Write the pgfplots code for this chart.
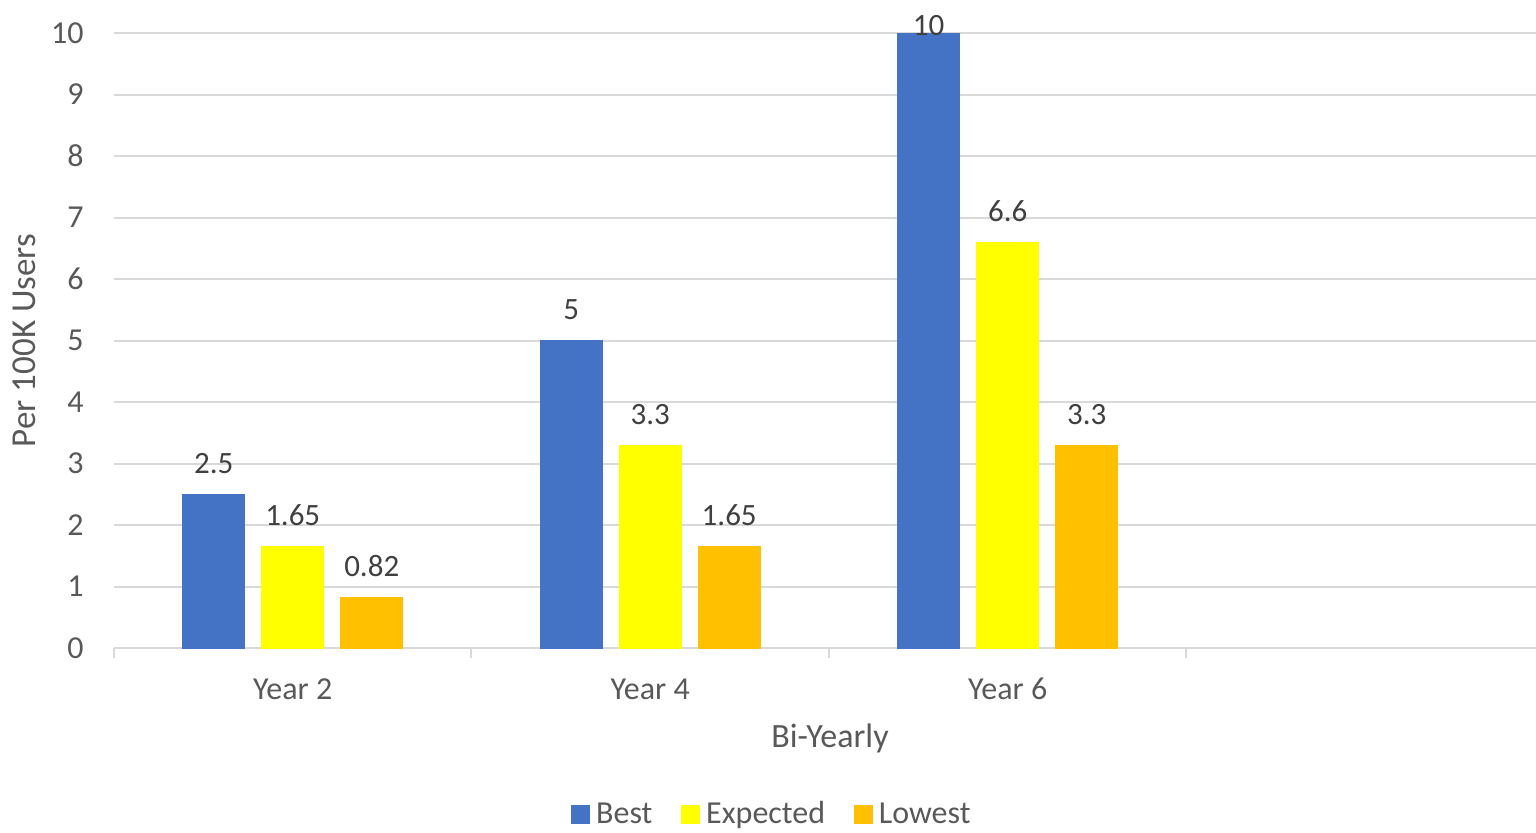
\documentclass[border=0pt]{standalone}
\usepackage{fontspec}
\setmainfont{Carlito}
\usepackage{pgfplots}
\pgfplotsset{compat=1.18}
\definecolor{cBest}{HTML}{4472C4}
\definecolor{cExp}{HTML}{FFFF00}
\definecolor{cLow}{HTML}{FFC000}
\definecolor{gridgray}{HTML}{D9D9D9}
\definecolor{textgray}{HTML}{595959}
\definecolor{labgray}{HTML}{404040}
\begin{document}
\begin{tikzpicture}
\begin{axis}[
  scale only axis, width=711pt, height=307.5pt,
  xmin=-0.5, xmax=3.478, ymin=0, ymax=10,
  ybar=8.5pt, bar width=31pt,
  clip=false,
  axis line style={draw=none},
  ymajorgrids, grid style={draw=gridgray, line width=1pt},
  ytick={0,1,...,10}, ytick style={draw=none},
  yticklabel style={font=\fontsize{16}{19}\selectfont, text=textgray, anchor=east, inner sep=0pt, xshift=-10pt},
  /pgf/number format/assume math mode=true,
  xtick={-0.5,0.5,1.5,2.5}, xticklabels={,,,},
  xtick style={draw=gridgray, line width=1pt},
  tick align=outside, major tick length=5pt,
  xtick pos=bottom, ytick pos=left,
  extra x ticks={0,1,2},
  extra x tick labels={Year 2,Year 4,Year 6},
  extra x tick style={major tick length=0pt, grid=none,
     xticklabel style={font=\fontsize{16}{19}\selectfont, text=textgray, anchor=base, inner sep=0pt, yshift=-25.5pt}},
  xlabel={Bi-Yearly},
  xlabel style={font=\fontsize{17}{20}\selectfont, text=textgray, at={(axis description cs:0.5035,-0.1463)}, anchor=center},
  ylabel={Per 100K Users},
  ylabel style={font=\fontsize{17.5}{20}\selectfont, text=textgray, at={(axis description cs:-0.0633,0.5)}, anchor=center, rotate=0},
  legend style={draw=none, at={(axis description cs:0.4634,-0.2705)}, anchor=center,
     legend columns=3, font=\fontsize{16}{19}\selectfont, text=textgray,
     /tikz/every even column/.append style={column sep=12.5pt}},
  legend image code/.code={\fill[#1] (0pt,-4.5pt) rectangle (9pt,4.5pt); \path (10pt,0pt);},
  nodes near coords,
  visualization depends on={y \as \rawy},
  every node near coord/.append style={font=\fontsize{15.5}{18}\selectfont, text=labgray, anchor=base, inner sep=0pt, yshift={\rawy>9 ? -1 : 10.5}},
]
\addplot[fill=cBest, draw=cBest] coordinates {(0,2.5) (1,5) (2,10)};
\addplot[fill=cExp, draw=cExp] coordinates {(0,1.65) (1,3.3) (2,6.6)};
\addplot[fill=cLow, draw=cLow] coordinates {(0,0.82) (1,1.65) (2,3.3)};
\legend{Best,Expected,Lowest}
\end{axis}
\pgfresetboundingbox
\path[use as bounding box] ([xshift=-57pt,yshift=-92pt]current axis.south west) rectangle ([yshift=16.5pt]current axis.north east);
\end{tikzpicture}
\end{document}
